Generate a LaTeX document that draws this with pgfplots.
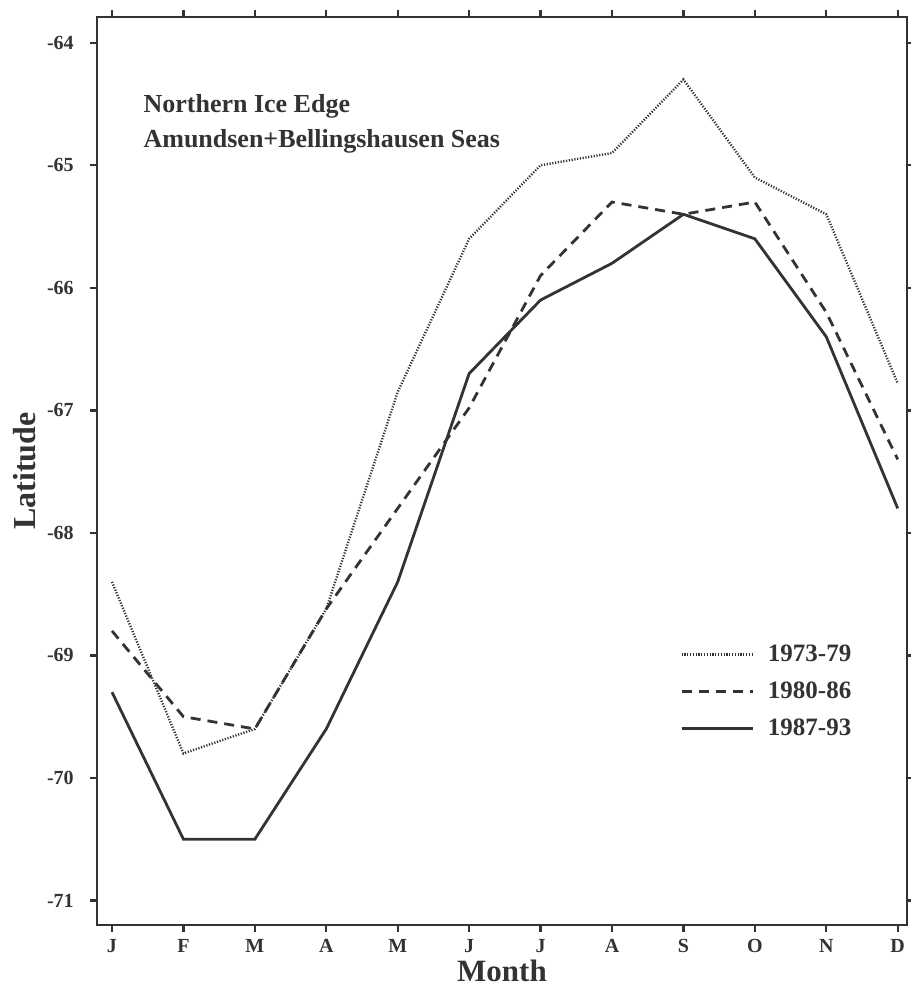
\documentclass[border=0pt]{standalone}
\usepackage{fontspec}
\setmainfont{Liberation Serif}
\usepackage{pgfplots}
\pgfplotsset{compat=1.18}
\definecolor{ink}{HTML}{333333}
\begin{document}
\begin{tikzpicture}[x=1pt,y=1pt]
\begin{axis}[
  scale only axis,
  width=405pt, height=454pt,
  xmin=-0.21, xmax=11.13,
  ymin=-71.2, ymax=-63.79,
  axis line style={ink, line width=1.4pt},
  every tick/.style={ink, line width=1.2pt},
  major tick length=3.6pt,
  tick align=outside,
  xtick={0,...,11},
  xticklabels={J,F,M,A,M,J,J,A,S,O,N,D},
  ytick={-71,-70,-69,-68,-67,-66,-65,-64},
  yticklabels={-71,-70,-69,-68,-67,-66,-65,-64},
  xtick pos=both, ytick pos=both,
  xticklabel pos=bottom, yticklabel pos=left,
  tick label style={font=\bfseries\fontsize{10}{12}\selectfont, text=ink},
  yticklabel style={xshift=-4.5pt},
  xticklabel style={inner sep=1pt, yshift=-2.3pt},
  xlabel={Month}, ylabel={Latitude},
  label style={font=\bfseries\fontsize{16}{19}\selectfont, text=ink},
  xlabel style={font=\bfseries\fontsize{15.5}{18}\selectfont, inner sep=1pt, yshift=-1.3pt},
  ylabel style={yshift=-1.5pt},
  legend style={draw=none, fill=none, at={(rel axis cs:0.712,0.318)}, anchor=north west,
    font=\bfseries\fontsize{12.5}{14}\selectfont, text=ink, row sep=4.8pt,
    /tikz/every odd column/.append style={column sep=5pt}},
  legend cell align=left,
  legend image code/.code={\draw[#1] (0pt,0pt) -- (35.5pt,0pt);},
]
\addplot[ink, line width=1.2pt, dash pattern=on 0.6pt off 0.8pt] coordinates {
(0,-68.4) (1,-69.8) (2,-69.6) (3,-68.62) (4,-66.85) (5,-65.6) (6,-65.0) (7,-64.9) (8,-64.3) (9,-65.1) (10,-65.4) (11,-66.78)};
\addlegendentry{1973-79}
\addplot[ink, line width=1.4pt, dash pattern=on 5pt off 3.5pt] coordinates {
(0,-68.8) (1,-69.5) (2,-69.6) (3,-68.62) (4,-67.8) (5,-66.98) (6,-65.9) (7,-65.3) (8,-65.4) (9,-65.3) (10,-66.2) (11,-67.4)};
\addlegendentry{1980-86}
\addplot[ink, line width=1.4pt] coordinates {
(0,-69.3) (1,-70.5) (2,-70.5) (3,-69.6) (4,-68.4) (5,-66.7) (6,-66.1) (7,-65.8) (8,-65.4) (9,-65.6) (10,-66.4) (11,-67.8)};
\addlegendentry{1987-93}
\node[anchor=base west, inner sep=0pt, font=\bfseries\fontsize{13}{15}\selectfont, text=ink] at (rel axis cs:0.057,0.895) {Northern Ice Edge};
\node[anchor=base west, inner sep=0pt, font=\bfseries\fontsize{13}{15}\selectfont, text=ink] at (rel axis cs:0.057,0.856) {Amundsen+Bellingshausen Seas};
\end{axis}
\pgfresetboundingbox
\path[use as bounding box] (-48.5pt,-31pt) rectangle (407pt,462.5pt);
\end{tikzpicture}
\end{document}
